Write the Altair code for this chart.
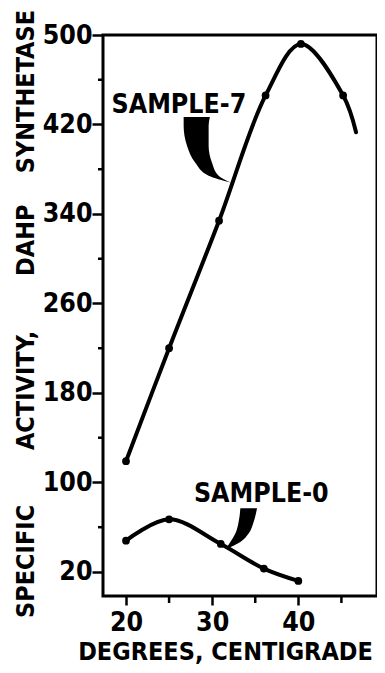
import altair as alt
import pandas as pd

# ---- data ----
s7_x = [20, 25, 30.8, 36.2, 40.3, 45.2]
s7_y = [119, 220, 334, 446, 492, 446]
s7_end_x = 46.7          # line continues past last dot (no dot)
s7_end_y = 413

s0_x = [20, 25, 31, 36, 40]
s0_y = [48, 67, 45, 23, 12]

y_major = [20, 100, 180, 260, 340, 420, 500]
y_minor = [60, 140, 220, 300, 380, 460]
x_major = [20, 30, 40]
x_minor = [25, 35, 45]

label_text = ["SAMPLE-7", "SAMPLE-0"]
label_x = [26.14, 35.7]
label_y = [430.7, 82.5]

# pointer wedges: for each height, left and right edge
p7_y = [426.8, 418.8, 400.9, 385.7, 374.1, 367.9]
p7_l = [26.69, 26.69, 27.08, 28.04, 29.59, 32.2]
p7_r = [29.73, 29.59, 29.59, 29.98, 30.75, 32.2]
p0_y = [76.9, 64.6, 54.3, 46.8, 40.3]
p0_l = [33.27, 33.07, 32.69, 32.11, 31.53]
p0_r = [35.21, 34.81, 34.23, 33.27, 31.53]

FONT = "DejaVu Sans Condensed, Liberation Sans, sans-serif"
FS = 26.5
FT = 25
W, H = 274, 561

xs = alt.Scale(domain=[17.33, 49.13], nice=False, zero=False)
ys = alt.Scale(domain=[-1.5, 500], nice=False, zero=False)

lines = pd.DataFrame(
    [{"s": "7", "x": a, "y": b, "dot": True} for a, b in zip(s7_x, s7_y)]
    + [{"s": "7", "x": s7_end_x, "y": s7_end_y, "dot": False}]
    + [{"s": "0", "x": a, "y": b, "dot": True} for a, b in zip(s0_x, s0_y)]
)
w7 = pd.DataFrame({"y": p7_y, "l": p7_l, "r": p7_r})
w0 = pd.DataFrame({"y": p0_y, "l": p0_l, "r": p0_r})
labels = pd.DataFrame({"t": label_text, "x": label_x, "y": label_y})

x_axis = alt.Axis(
    values=x_major, tickSize=9, tickWidth=2.5, tickColor="black", domain=False, grid=False,
    labelFont=FONT, labelFontSize=FS, labelFontWeight="bold", labelColor="black",
    labelBaseline="alphabetic", labelPadding=25,
    title="DEGREES, CENTIGRADE", titleFont=FONT, titleFontSize=FT, titleFontWeight="bold",
    titleColor="black", titleBaseline="alphabetic", titleY=63, titleX=122, titleAlign="center",
)
NB = "\u00a0"
y_title = "SPECIFIC" + NB * 7 + "ACTIVITY," + NB * 7 + "DAHP" + NB * 4 + "SYNTHETASE"
y_axis = alt.Axis(
    values=y_major, tickSize=11, tickWidth=2.5, tickColor="black", domain=False, grid=False,
    labelFont=FONT, labelFontSize=FS, labelFontWeight="bold", labelColor="black", labelPadding=0,
    title=y_title,
    titleFont=FONT, titleFontSize=FT, titleFontWeight="bold", titleColor="black",
    titleAngle=-90, titleBaseline="alphabetic", titleX=-70, titleY=278.5, titleAlign="center",
)

base = alt.Chart(lines)
line = base.mark_line(interpolate="catmull-rom", color="black", strokeWidth=4, strokeCap="round").encode(
    x=alt.X("x:Q", scale=xs, axis=x_axis),
    y=alt.Y("y:Q", scale=ys, axis=y_axis),
    detail="s:N",
)
dots = base.mark_circle(color="black", opacity=1, size=60).encode(
    x=alt.X("x:Q", scale=xs), y=alt.Y("y:Q", scale=ys)
).transform_filter("datum.dot")

def wedge(df):
    return alt.Chart(df).mark_area(color="black", opacity=1, orient="horizontal", interpolate="monotone").encode(
        y=alt.Y("y:Q", scale=ys), x=alt.X("l:Q", scale=xs), x2="r:Q"
    )

texts = alt.Chart(labels).mark_text(
    font=FONT, fontSize=FS, fontWeight="bold", color="black", align="center", baseline="alphabetic"
).encode(x=alt.X("x:Q", scale=xs), y=alt.Y("y:Q", scale=ys), text="t:N")

ymin = alt.Chart(pd.DataFrame({"v": y_minor})).mark_rule(color="black", strokeWidth=2.5).encode(
    y=alt.Y("v:Q", scale=ys), x=alt.value(-5), x2=alt.value(0)
)
xmin = alt.Chart(pd.DataFrame({"v": x_minor})).mark_rule(color="black", strokeWidth=2.5).encode(
    x=alt.X("v:Q", scale=xs), y=alt.value(H), y2=alt.value(H + 7)
)

chart = alt.layer(line, dots, wedge(w7), wedge(w0), texts, ymin, xmin).properties(
    width=W, height=H,
    autosize=alt.AutoSizeParams(type="none"),
    padding={"left": 95, "top": 27, "right": 0, "bottom": 69},
    background="white",
).configure_view(stroke="black", strokeWidth=3)

chart.save("out.html", embed_options={"renderer": "svg", "actions": False})
